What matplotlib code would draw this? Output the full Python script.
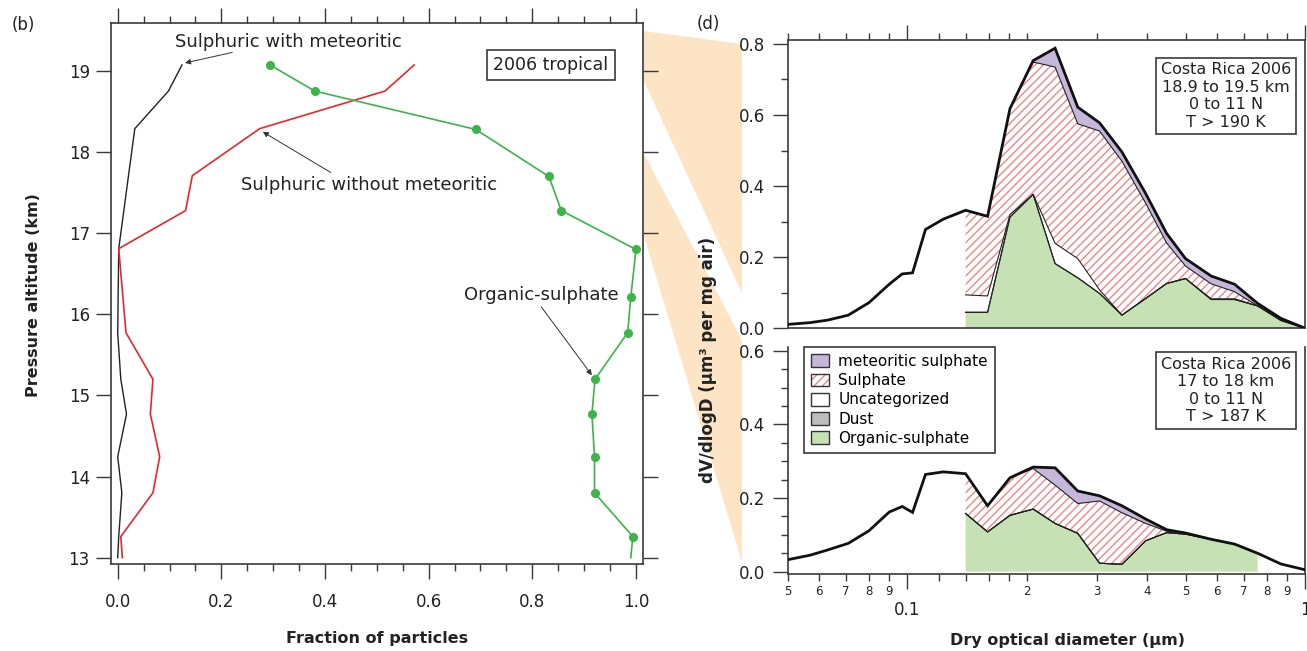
import numpy as np
import matplotlib.pyplot as plt
from matplotlib.patches import Patch, Polygon

plt.rcParams['font.family'] = ['DejaVu Sans']
plt.rcParams['hatch.linewidth'] = 1.0

# ---- panel (b): fraction of particles vs altitude ----
alt_meteoritic = [19.075, 18.754, 18.29, 16.81, 15.774, 15.20, 14.77, 14.245, 13.80, 13.26, 13.0]
frac_meteoritic = [0.124, 0.098, 0.033, 0.002, 0.0, 0.006, 0.017, 0.0, 0.008, 0.002, 0.0]

alt_no_meteoritic = [19.075, 18.754, 18.29, 17.71, 17.28, 16.81, 15.774, 15.20, 14.77, 14.245, 13.80, 13.26, 13.0]
frac_no_meteoritic = [0.572, 0.516, 0.274, 0.144, 0.131, 0.002, 0.016, 0.068, 0.063, 0.081, 0.068, 0.006, 0.009]

alt_organic = [19.075, 18.754, 18.28, 17.70, 17.28, 16.80, 16.21, 15.774, 15.20, 14.77, 14.245, 13.80, 13.26, 13.0]
frac_organic = [0.294, 0.380, 0.691, 0.832, 0.856, 1.0, 0.990, 0.984, 0.921, 0.915, 0.920, 0.920, 0.994, 0.990]

# ---- panel (d): size distributions ----
diam = [0.050, 0.057, 0.063, 0.071, 0.080, 0.090, 0.097, 0.103, 0.111, 0.123, 0.140, 0.159, 0.181,
        0.207, 0.235, 0.268, 0.304, 0.346, 0.397, 0.448, 0.500, 0.580, 0.664, 0.759, 0.868, 1.000]

# upper: 18.9 to 19.5 km
total_hi = [0.011, 0.016, 0.023, 0.037, 0.072, 0.124, 0.153, 0.156, 0.278, 0.307, 0.332, 0.315, 0.618,
            0.753, 0.788, 0.622, 0.578, 0.496, 0.379, 0.267, 0.196, 0.147, 0.124, 0.070, 0.028, 0.0]
org_hi = [0.045, 0.045, 0.313, 0.377, 0.182, 0.142, 0.098, 0.037, 0.084, 0.126, 0.140, 0.081, 0.081, 0.063, 0.022, 0.0]
dust_hi = [0, 0, 0, 0, 0, 0, 0, 0, 0, 0, 0, 0, 0, 0, 0, 0]
uncat_hi = [0.049, 0.046, 0.007, 0.0, 0.057, 0.054, 0.010, 0.0, 0.0, 0.0, 0.0, 0.002, 0.002, 0.0, 0.001, 0.0]
sulph_hi = [0.238, 0.224, 0.298, 0.372, 0.496, 0.379, 0.447, 0.433, 0.268, 0.114, 0.035, 0.042, 0.020, 0.0, 0.001, 0.0]
meteo_hi = [0.0, 0.0, 0.0, 0.004, 0.053, 0.047, 0.023, 0.026, 0.027, 0.027, 0.021, 0.022, 0.021, 0.007, 0.004, 0.0]

# lower: 17 to 18 km
total_lo = [0.0325, 0.045, 0.059, 0.077, 0.111, 0.162, 0.177, 0.161, 0.264, 0.271, 0.266, 0.179, 0.255,
            0.284, 0.282, 0.219, 0.206, 0.179, 0.143, 0.114, 0.105, 0.088, 0.075, 0.050, 0.021, 0.005]
org_lo = [0.158, 0.108, 0.153, 0.170, 0.131, 0.104, 0.023, 0.020, 0.084, 0.106, 0.102, 0.088, 0.075, 0.050]
dust_lo = [0, 0, 0, 0, 0, 0, 0, 0, 0, 0, 0, 0, 0, 0]
uncat_lo = [0, 0, 0, 0, 0, 0, 0, 0, 0, 0, 0, 0, 0, 0]
sulph_lo = [0.108, 0.071, 0.102, 0.110, 0.104, 0.081, 0.169, 0.140, 0.047, 0.004, 0.002, 0.0, 0.0, 0.0]
meteo_lo = [0.0, 0.0, 0.0, 0.004, 0.047, 0.034, 0.014, 0.019, 0.012, 0.004, 0.001, 0.0, 0.0, 0.0]

layer_names = ['Organic-sulphate', 'Dust', 'Uncategorized', 'Sulphate', 'meteoritic sulphate']
layer_styles = [dict(facecolor='#c6e1b4'), dict(facecolor='#bdbdbd'), dict(facecolor='white'),
                dict(facecolor='white', edgecolor='#ee8686', hatch='////'), dict(facecolor='#c5b6da')]

W, H = 1307, 651
fig = plt.figure(figsize=(W / 100, H / 100), dpi=100)

# orange connectors (pixel corners -> figure fraction)
wedge_color = '#fde4c4'
for pts in ([(643, 31), (742, 44), (742, 293), (643, 79)],
            [(643, 152), (742, 340), (742, 562), (643, 233)]):
    fig.patches.append(Polygon([(x / W, 1 - y / H) for x, y in pts], closed=True,
                               transform=fig.transFigure, facecolor=wedge_color, edgecolor='none', zorder=-1))

spine_c = '#3a3a3a'

# ---------- left panel ----------
ax1 = fig.add_axes([110.7 / W, 1 - 564 / H, 532 / W, 540.7 / H])
ax1.plot(frac_meteoritic, alt_meteoritic, color='#222222', lw=1.0)
ax1.plot(frac_no_meteoritic, alt_no_meteoritic, color='#e8262e', lw=1.2)
ax1.plot(frac_organic, alt_organic, color='#3cb44a', lw=1.2, marker='o', ms=5.5,
         markevery=list(range(len(frac_organic) - 1)))
ax1.set_xlim(-0.0135, 1.013)
ax1.set_ylim(12.922, 19.589)
ax1.set_xticks(np.arange(0, 1.01, 0.2))
ax1.set_xticklabels(['%.1f' % v for v in np.arange(0, 1.01, 0.2)])
ax1.set_xticks(np.arange(0, 1.001, 0.05), minor=True)
ax1.set_yticks(range(13, 20))
ax1.tick_params(axis='x', which='major', direction='out', length=11, width=1, top=True, pad=10,
                labelsize=12, color=spine_c, labelcolor='#222')
ax1.tick_params(axis='x', which='minor', direction='out', length=5, width=1, top=True, color=spine_c)
ax1.tick_params(axis='y', which='major', direction='out', length=11, width=1, right=True, pad=4,
                labelsize=12, color=spine_c, labelcolor='#222')
for s in ax1.spines.values():
    s.set_color(spine_c)
    s.set_linewidth(1.2)

arr = dict(arrowstyle='-|>', lw=0.7, color='#333', mutation_scale=8, shrinkA=0, shrinkB=0)
ax1.text(0.33, 19.36, 'Sulphuric with meteoritic', fontsize=13, ha='center', va='center', color='#222')
ax1.annotate('', xy=(0.130, 19.10), xytext=(0.221, 19.23), arrowprops=arr)
ax1.text(0.485, 17.595, 'Sulphuric without meteoritic', fontsize=13, ha='center', va='center', color='#222')
ax1.annotate('', xy=(0.280, 18.25), xytext=(0.411, 17.75), arrowprops=arr)
ax1.text(0.817, 16.24, 'Organic-sulphate', fontsize=13, ha='center', va='center', color='#222')
ax1.annotate('', xy=(0.915, 15.25), xytext=(0.817, 16.095), arrowprops=arr)
ax1.text(0.836, 19.075, '2006 tropical', fontsize=12.5, ha='center', va='center', color='#222',
         bbox=dict(boxstyle='square,pad=0.35', fc='white', ec=spine_c, lw=1.2))

fig.text(376.7 / W, 1 - 638 / H, 'Fraction of particles', fontsize=11.5, fontweight='bold',
         ha='center', va='center', color='#222')
fig.text(34 / W, 1 - 295 / H, 'Pressure altitude (km)', fontsize=11.5, fontweight='bold',
         rotation=90, ha='center', va='center', color='#222')
fig.text(23 / W, 1 - 25 / H, '(b)', fontsize=12, ha='center', va='center', color='#222')
fig.text(708 / W, 1 - 24 / H, '(d)', fontsize=12, ha='center', va='center', color='#222')

# ---------- right panels ----------
ax2 = fig.add_axes([787.7 / W, 1 - 328.3 / H, 517.6 / W, 288.3 / H])
ax3 = fig.add_axes([787.7 / W, 1 - 573.5 / H, 517.6 / W, 226.5 / H])


def draw_sizes(ax, total, layers):
    n = len(layers[0])
    x = diam[10:10 + n]
    base = np.zeros(n)
    for vals, style in zip(layers, layer_styles):
        top = base + np.array(vals, dtype=float)
        ax.fill_between(x, base, top, lw=0, zorder=1, **style)
        ax.plot(x, top, color='#222', lw=0.8, zorder=2)
        base = top
    ax.plot(diam, total, color='#111', lw=2.0, zorder=3, solid_joinstyle='miter')


draw_sizes(ax2, total_hi, [org_hi, dust_hi, uncat_hi, sulph_hi, meteo_hi])
draw_sizes(ax3, total_lo, [org_lo, dust_lo, uncat_lo, sulph_lo, meteo_lo])

minor_pos = [0.05, 0.06, 0.07, 0.08, 0.09, 0.12, 0.14, 0.16, 0.18,
             0.2, 0.3, 0.4, 0.5, 0.6, 0.7, 0.8, 0.9]
minor_lab = ['5', '6', '7', '8', '9', '', '', '', '', '2', '3', '4', '5', '6', '7', '8', '9']

for ax in (ax2, ax3):
    ax.set_xscale('log')
    ax.set_xlim(0.05, 1.0)
    ax.set_xticks([0.1, 1.0])
    ax.set_xticklabels(['0.1', '1'])
    ax.set_xticks(minor_pos, minor=True)
    ax.set_xticklabels(minor_lab, minor=True)
    for s in ax.spines.values():
        s.set_color(spine_c)
        s.set_linewidth(1.2)
    ax.tick_params(axis='y', which='major', direction='out', length=11, width=1, pad=5,
                   labelsize=12, color=spine_c, labelcolor='#222')
    ax.tick_params(axis='y', which='minor', direction='out', length=5, width=1, color=spine_c)

ax2.set_ylim(0, 0.811)
ax2.set_yticks([0.0, 0.2, 0.4, 0.6, 0.8])
ax2.set_yticklabels(['0.0', '0.2', '0.4', '0.6', '0.8'])
ax2.set_yticks([0.1, 0.3, 0.5, 0.7], minor=True)
ax2.tick_params(axis='x', which='both', bottom=False, top=True, labelbottom=False, labeltop=False,
                direction='out', color=spine_c)
ax2.tick_params(axis='x', which='major', length=11, width=1)
ax2.tick_params(axis='x', which='minor', length=5, width=1)

ax3.set_ylim(-0.0049, 0.610)
ax3.set_yticks([0.0, 0.2, 0.4, 0.6])
ax3.set_yticklabels(['0.0', '0.2', '0.4', '0.6'])
ax3.set_yticks([0.05, 0.1, 0.15, 0.25, 0.3, 0.35, 0.45, 0.5, 0.55], minor=True)
ax3.spines['top'].set_visible(False)
ax3.tick_params(axis='x', which='major', direction='out', length=11, width=1, pad=9,
                labelsize=12, color=spine_c, labelcolor='#222')
ax3.tick_params(axis='x', which='minor', direction='out', length=5, width=1, pad=3,
                labelsize=8.5, color=spine_c, labelcolor='#222')

box = dict(boxstyle='square,pad=0.3', fc='white', ec=spine_c, lw=1.2)
ax2.text(0.847, 0.806, 'Costa Rica 2006\n18.9 to 19.5 km\n0 to 11 N\nT > 190 K', transform=ax2.transAxes,
         fontsize=11.5, ha='center', va='center', color='#222', bbox=box)
ax3.text(0.847, 0.808, 'Costa Rica 2006\n17 to 18 km\n0 to 11 N\nT > 187 K', transform=ax3.transAxes,
         fontsize=11.5, ha='center', va='center', color='#222', bbox=box)

handles = []
for name, style in zip(layer_names, layer_styles):
    if 'hatch' in style:
        h = (Patch(facecolor='white', edgecolor=style['edgecolor'], hatch='////', lw=0),
             Patch(facecolor='none', edgecolor='#333', lw=1))
    else:
        h = Patch(facecolor=style['facecolor'], edgecolor='#333', lw=1)
    handles.append(h)
leg = ax3.legend(handles[::-1], layer_names[::-1], loc='upper left',
                 bbox_to_anchor=(804 / W, 1 - 347 / H), bbox_transform=fig.transFigure,
                 borderaxespad=0, fontsize=11, fancybox=False, edgecolor=spine_c, framealpha=1,
                 handlelength=1.2, handleheight=0.9, handletextpad=0.6, labelspacing=0.28, borderpad=0.45)
leg.get_frame().set_linewidth(1.2)

fig.text(1068 / W, 1 - 640 / H, 'Dry optical diameter (µm)', fontsize=11.5, fontweight='bold',
         ha='center', va='center', color='#222')
fig.text(708 / W, 1 - 360 / H, 'dV/dlogD (µm³ per mg air)', fontsize=12, fontweight='bold',
         rotation=90, ha='center', va='center', color='#222')

fig.savefig('out.png', dpi=100)
